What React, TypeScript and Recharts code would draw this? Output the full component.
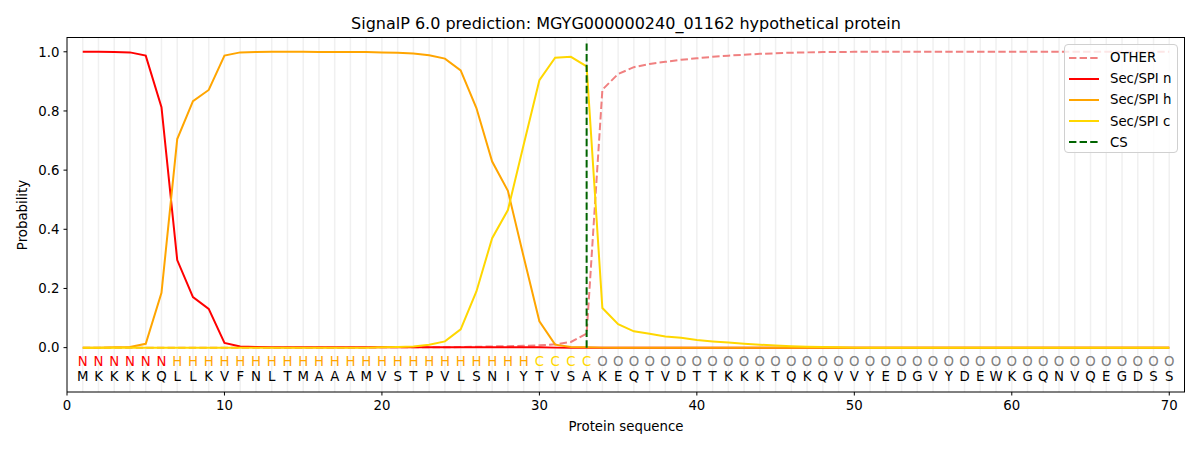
import { LineChart, Line, XAxis, YAxis, ReferenceLine } from 'recharts';

const sequence = 'MKKKKQLLKVFNLTMAAAMVSTPVLSNIYTVSAKEQTVDTTKKKTQKQVVYEDGVYDEWKGQNVQEGDSS'.split('');
const predicted = 'NNNNNNHHHHHHHHHHHHHHHHHHHHHHHCCCCOOOOOOOOOOOOOOOOOOOOOOOOOOOOOOOOOOOOO'.split('');

const other = [
  0, 0, 0, 0, 0, 0, 0, 0, 0, 0,
  0, 0, 0, 0, 0, 0, 0, 0, 0, 0.001,
  0.001, 0.001, 0.001, 0.001, 0.002, 0.003, 0.004, 0.005, 0.006, 0.008,
  0.011, 0.019, 0.047, 0.872, 0.925, 0.948, 0.959, 0.966, 0.973, 0.978,
  0.983, 0.987, 0.99, 0.993, 0.995, 0.997, 0.998, 0.999, 0.999, 1.0,
  1.0, 1.0, 1.0, 1.0, 1.0, 1.0, 1.0, 1.0, 1.0, 1.0,
  1.0, 1.0, 1.0, 1.0, 1.0, 1.0, 1.0, 1.0, 1.0, 1.0,
];
const secN = [
  1.0, 1.0, 0.999, 0.998, 0.987, 0.813, 0.296, 0.171, 0.131, 0.016,
  0.004, 0.002, 0.001, 0.001, 0.001, 0.001, 0.001, 0.001, 0.001, 0.001,
  0.001, 0.001, 0.001, 0.001, 0.001, 0.001, 0.001, 0.001, 0.001, 0.001,
  0, 0, 0, 0, 0, 0, 0, 0, 0, 0,
  0, 0, 0, 0, 0, 0, 0, 0, 0, 0,
  0, 0, 0, 0, 0, 0, 0, 0, 0, 0,
  0, 0, 0, 0, 0, 0, 0, 0, 0, 0,
];
const secH = [
  0, 0, 0.001, 0.002, 0.013, 0.185, 0.705, 0.833, 0.871, 0.987,
  0.998, 0.999, 1.0, 1.0, 1.0, 0.999, 0.999, 0.999, 0.999, 0.998,
  0.997, 0.994, 0.988, 0.977, 0.937, 0.81, 0.629, 0.53, 0.307, 0.089,
  0.01, 0.002, 0.001, 0, 0, 0, 0, 0, 0, 0,
  0, 0, 0, 0, 0, 0, 0, 0, 0, 0,
  0, 0, 0, 0, 0, 0, 0, 0, 0, 0,
  0, 0, 0, 0, 0, 0, 0, 0, 0, 0,
];
const secC = [
  0, 0, 0, 0, 0, 0, 0, 0, 0, 0,
  0, 0, 0, 0, 0, 0, 0, 0, 0, 0.001,
  0.002, 0.004, 0.01, 0.021, 0.062, 0.19, 0.37, 0.465, 0.686, 0.904,
  0.98, 0.983, 0.951, 0.134, 0.079, 0.055, 0.047, 0.038, 0.033, 0.026,
  0.021, 0.017, 0.013, 0.01, 0.007, 0.005, 0.003, 0.002, 0.001, 0,
  0, 0, 0, 0, 0, 0, 0, 0, 0, 0,
  0, 0, 0, 0, 0, 0, 0, 0, 0, 0,
];
const csPosition = 33;
const xTicks = [0, 10, 20, 30, 40, 50, 60, 70];
const yTicks = [0, 0.2, 0.4, 0.6, 0.8, 1.0];

const labelColor: Record<string, string> = { N: '#ff0000', H: '#ffa500', C: '#ffd700', O: '#808080' };

const rows = sequence.map((aa, i) => ({
  pos: i + 1,
  aa,
  lab: predicted[i],
  other: other[i],
  n: secN[i],
  h: secH[i],
  c: secC[i],
}));

const LAB_Y = -0.046;
const AA_Y = -0.096;
const font = "'DejaVu Sans', sans-serif";

const legendItems = [
  { name: 'OTHER', color: '#f08080', dash: true },
  { name: 'Sec/SPI n', color: '#ff0000', dash: false },
  { name: 'Sec/SPI h', color: '#ffa500', dash: false },
  { name: 'Sec/SPI c', color: '#ffd700', dash: false },
  { name: 'CS', color: '#006400', dash: true },
];

function letterDot(field: 'aa' | 'lab') {
  return (p: any) => {
    const ch = p.payload[field];
    return (
      <text
        key={`${field}-${p.index}`}
        x={p.cx}
        y={p.cy + 5}
        textAnchor="middle"
        fontSize={13.3}
        fontFamily={font}
        fill={field === 'aa' ? '#000' : labelColor[ch]}
      >
        {ch}
      </text>
    );
  };
}

export default function App() {
  return (
    <div style={{ position: 'relative', width: 1200, height: 450, fontFamily: font, background: '#fff' }}>
      <style>{'body{margin:0}'}</style>
      <LineChart width={1200} height={450} data={rows} margin={{ top: 37, right: 15, bottom: 0, left: 0 }}>
        <XAxis
          dataKey="pos"
          type="number"
          domain={[0, 71]}
          ticks={xTicks}
          allowDataOverflow
          height={58}
          stroke="#000"
          tickSize={3.5}
          tickMargin={5}
          tick={{ fill: '#000', fontSize: 13.3, fontFamily: font }}
        />
        <YAxis
          type="number"
          domain={[-0.15, 1.05]}
          ticks={yTicks}
          allowDataOverflow
          width={67}
          stroke="#000"
          tickSize={3.5}
          tickMargin={4}
          tickFormatter={(v: number) => v.toFixed(1)}
          tick={{ fill: '#000', fontSize: 13.3, fontFamily: font }}
        />
        {rows.map((r) => (
          <ReferenceLine key={`g${r.pos}`} x={r.pos} stroke="#f0f0f0" strokeWidth={1.5} />
        ))}
        <Line dataKey="other" stroke="#f08080" strokeWidth={2} strokeDasharray="7.4 3.2" dot={false} isAnimationActive={false} />
        <Line dataKey="n" stroke="#ff0000" strokeWidth={2} dot={false} isAnimationActive={false} />
        <Line dataKey="h" stroke="#ffa500" strokeWidth={2} dot={false} isAnimationActive={false} />
        <Line dataKey="c" stroke="#ffd700" strokeWidth={2} dot={false} isAnimationActive={false} />
        <ReferenceLine
          segment={[{ x: csPosition, y: 0 }, { x: csPosition, y: 1.036 }]}
          stroke="#006400"
          strokeWidth={2}
          strokeDasharray="7.4 3.2"
        />
        <Line dataKey={() => LAB_Y} stroke="none" dot={letterDot('lab')} activeDot={false} isAnimationActive={false} />
        <Line dataKey={() => AA_Y} stroke="none" dot={letterDot('aa')} activeDot={false} isAnimationActive={false} />
      </LineChart>

      {/* axes frame (top and right spines) */}
      <div
        style={{
          position: 'absolute',
          left: 67,
          top: 37,
          width: 1118,
          height: 355,
          borderTop: '1px solid #000',
          borderRight: '1px solid #000',
          boxSizing: 'border-box',
          pointerEvents: 'none',
        }}
      />

      <div style={{ position: 'absolute', left: 0, width: 1252, top: 14, textAlign: 'center', fontSize: 16, color: '#000', whiteSpace: 'nowrap' }}>
        SignalP 6.0 prediction: MGYG000000240_01162 hypothetical protein
      </div>
      <div style={{ position: 'absolute', left: 0, width: 1252, top: 419, textAlign: 'center', fontSize: 13.3, color: '#000' }}>
        Protein sequence
      </div>
      <div
        style={{
          position: 'absolute',
          left: 22,
          top: 215,
          transform: 'translate(-50%, -50%) rotate(-90deg)',
          fontSize: 13.3,
          color: '#000',
          whiteSpace: 'nowrap',
        }}
      >
        Probability
      </div>

      <div
        style={{
          position: 'absolute',
          left: 1064,
          top: 44,
          width: 112,
          height: 107,
          border: '1px solid #d0d0d0',
          borderRadius: 4,
          background: 'rgba(255,255,255,0.8)',
          boxSizing: 'content-box',
        }}
      >
        {legendItems.map((it, i) => (
          <div key={it.name} style={{ position: 'absolute', left: 4, top: 4 + i * 21.2, height: 17, display: 'flex', alignItems: 'center' }}>
            <svg width={30} height={4} style={{ display: 'block' }}>
              <line x1={0} y1={2} x2={30} y2={2} stroke={it.color} strokeWidth={2} strokeDasharray={it.dash ? '7.4 3.2' : undefined} />
            </svg>
            <span style={{ marginLeft: 11, fontSize: 13.3, color: '#000', whiteSpace: 'nowrap' }}>{it.name}</span>
          </div>
        ))}
      </div>
    </div>
  );
}
